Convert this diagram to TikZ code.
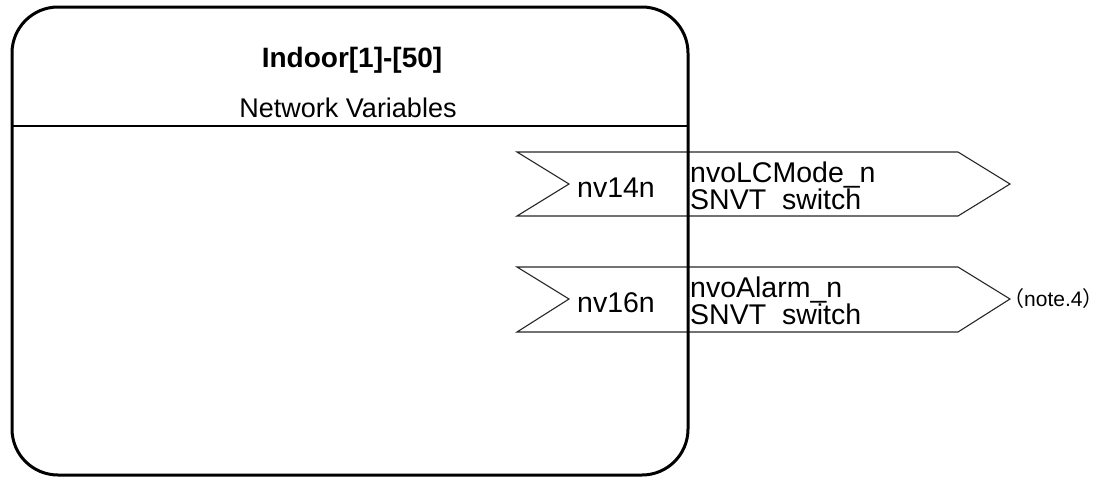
\documentclass[tikz,border=0pt]{standalone}
\usepackage{fontspec}
\setmainfont{Liberation Sans}
\newfontfamily\cjk{Noto Sans CJK JP}
\begin{document}
\begin{tikzpicture}[x=1pt,y=-1pt,
  unitbox/.style={line width=3pt, draw=black},
  sepline/.style={line width=1.5pt, draw=black},
  port/.style={line width=1.1pt, draw=black!85},
  txt/.style={font=\fontsize{28.5}{34}\selectfont, inner sep=0pt, anchor=base west},
  notetxt/.style={font=\fontsize{21}{25}\selectfont, inner sep=0pt, anchor=base west}]
\useasboundingbox (0,0) rectangle (1111,477);
% port shapes
\draw[port] (517,152) -- (958,152) -- (1010,184) -- (958,216) -- (517,216) -- (569,184) -- cycle;
\draw[port] (517,267) -- (958,267) -- (1010,299) -- (958,332) -- (517,332) -- (569,299) -- cycle;
% unit box
\draw[unitbox, rounded corners=46pt] (12,7) rectangle (688,475);
\draw[sepline] (12,126) -- (688,126);
\node[font=\bfseries\fontsize{28}{34}\selectfont, inner sep=0pt, anchor=base] (title) at (352,67) {Indoor[1]-[50]};
\node[font=\fontsize{27}{32}\selectfont, inner sep=0pt, anchor=base] (nvlabel) at (348,117) {Network Variables};
% port texts
\node[txt] (p1num) at (577,197) {nv14n};
\node[txt] (p1name) at (690,182) {nvoLCMode\_n};
\node[txt] (p2num) at (577,312) {nv16n};
\node[txt] (p2name) at (690,297) {nvoAlarm\_n};
\begin{scope}
\clip (690,185) rectangle (958,211);
\node[txt] (p1type) at (690,209.5) {SNVT\_switch};
\end{scope}
\begin{scope}
\clip (690,300) rectangle (958,326);
\node[txt] (p2type) at (690,324.5) {SNVT\_switch};
\end{scope}
\node[notetxt] (note) at (1003,306) {{\cjk （}note.4{\cjk ）}};
\end{tikzpicture}
\end{document}
